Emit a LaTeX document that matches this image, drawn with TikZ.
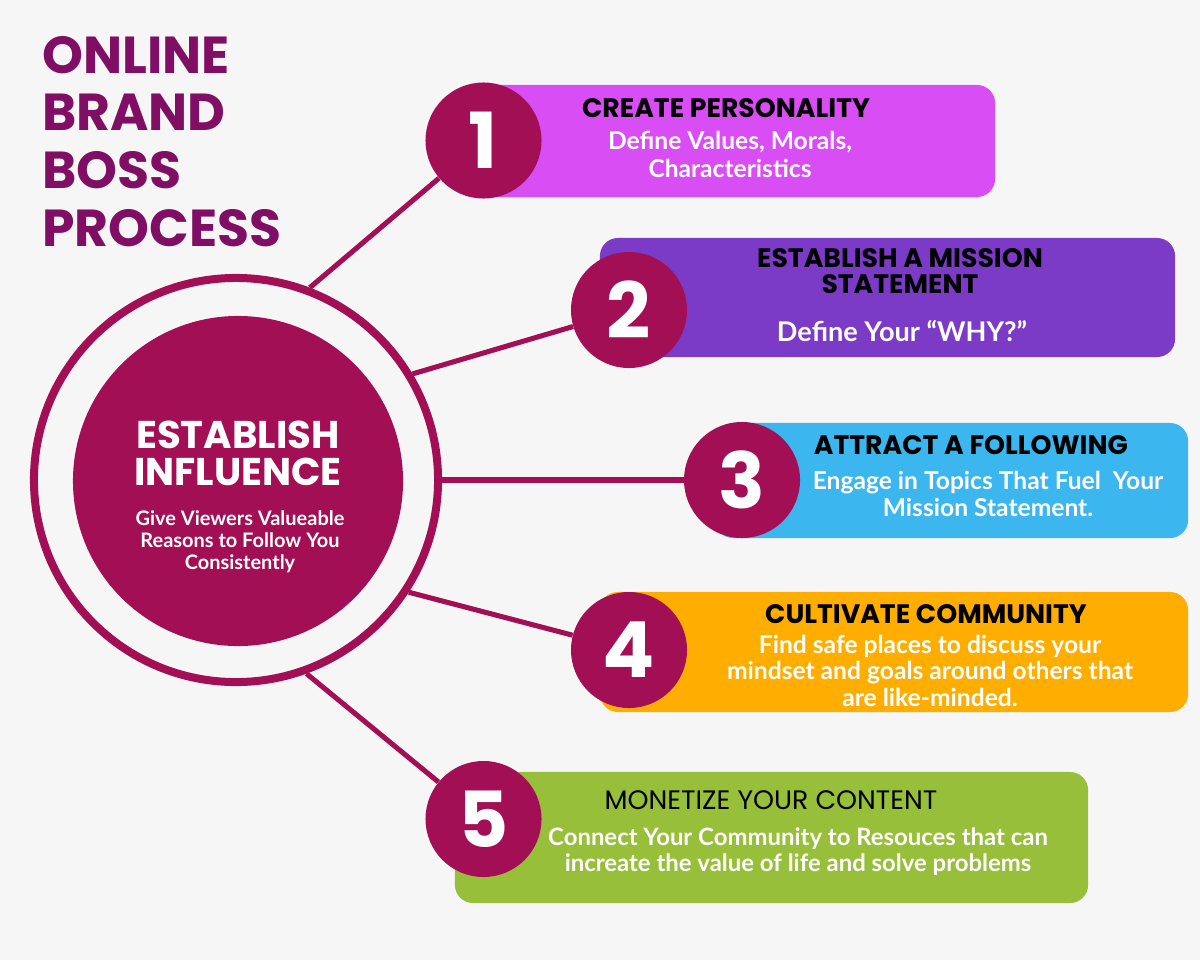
\documentclass[tikz,border=0pt]{standalone}
\usepackage{fontspec}
\setmainfont{Lato}
\newfontfamily\headfont{Poppins}

\definecolor{pagebg}{HTML}{F6F6F6}
\definecolor{brandred}{HTML}{A30F55}
\definecolor{titleplum}{HTML}{800E64}
\definecolor{cardpink}{HTML}{D94DF5}
\definecolor{cardpurple}{HTML}{7B3BC6}
\definecolor{cardblue}{HTML}{3BB6EF}
\definecolor{cardorange}{HTML}{FFAE00}
\definecolor{cardgreen}{HTML}{97BF39}

\begin{document}
\begin{tikzpicture}[
    x=0.025cm, y=-0.025cm,
    numdot/.style={circle, fill=brandred, minimum size=2.9cm, inner sep=0pt, text=white,
      font=\headfont\bfseries\fontsize{55}{55}\selectfont},
    card/.style={rounded corners=0.45cm, inner sep=0pt},
    cardhead/.style={anchor=base, align=center, font=\headfont\bfseries\fontsize{19}{17.8}\selectfont},
    cardtext/.style={anchor=base, align=center, text=white, font=\bfseries\fontsize{17.5}{19}\selectfont},
    spoke/.style={draw=brandred, line width=3.6pt}
  ]
  \fill[pagebg] (0,0) rectangle (1200,960);

  % title (base = last line)
  \node[anchor=base west, align=left, inner sep=0pt, text=titleplum,
    font=\headfont\bfseries\fontsize{37}{41}\selectfont] (title) at (42,246) {ONLINE\\BRAND\\BOSS\\PROCESS};

  % cards
  \node[card, fill=cardpink, minimum width=13.5cm, minimum height=2.8cm] (c1) at (725,141) {};
  \node[card, fill=cardpurple, minimum width=14.375cm, minimum height=2.975cm] (c2) at (887.5,297.5) {};
  \node[card, fill=cardblue, minimum width=11.825cm, minimum height=2.875cm] (c3) at (951.5,480.5) {};
  \node[card, fill=cardorange, minimum width=14.7cm, minimum height=3cm] (c4) at (894,652) {};
  \node[card, fill=cardgreen, minimum width=15.825cm, minimum height=3.275cm] (c5) at (771.5,837.5) {};

  % hub
  \node[circle, draw=brandred, line width=0.2cm, minimum size=10.1cm, inner sep=0pt] (ring) at (236,480) {};
  \node[circle, fill=brandred, minimum size=8.25cm, inner sep=0pt] (hub) at (238,481) {};
  \node[anchor=base, align=center, text=white,
    font=\headfont\bfseries\fontsize{27.5}{26.3}\selectfont] (hubhead) at (238,485) {ESTABLISH\\INFLUENCE};
  \node[cardtext, font=\bfseries\fontsize{14.2}{15.6}\selectfont] (hubtext) at (240,569)
    {Give Viewers Valueable\\Reasons to Follow You\\Consistently};

  % numbers
  \node[numdot] (n1) at (483.5,140.5) {1};
  \node[numdot] (n2) at (629,310) {2};
  \node[numdot] (n3) at (742,480) {3};
  \node[numdot] (n4) at (629,650) {4};
  \node[numdot] (n5) at (483.5,819) {5};

  % spokes
  \draw[spoke] (ring.69) -- (n1);
  \draw[spoke] (ring.31) -- (n2);
  \draw[spoke] (ring.east) -- (n3);
  \draw[spoke] (ring.-33) -- (n4);
  \draw[spoke] (ring.-70) -- (n5);

  % card texts (base = last line)
  \node[cardhead] (h1) at (726,117) {CREATE PERSONALITY};
  \node[cardtext, font=\bfseries\fontsize{17.5}{19.9}\selectfont] (t1) at (730,177) {Define Values, Morals,\\Characteristics};
  \node[cardhead] (h2) at (900,293) {ESTABLISH A MISSION\\STATEMENT};
  \node[cardtext, font=\bfseries\fontsize{19.3}{19}\selectfont] (t2) at (902,341) {Define Your “WHY?”};
  \node[cardhead] (h3) at (971,454) {ATTRACT A FOLLOWING};
  \node[cardtext, font=\bfseries\fontsize{17.5}{18.5}\selectfont] (t3) at (988,516) {Engage in Topics That Fuel \ Your\\Mission Statement.};
  \node[cardhead] (h4) at (926,623) {CULTIVATE COMMUNITY};
  \node[cardtext, font=\bfseries\fontsize{17.5}{18.5}\selectfont] (t4) at (930,706)
    {Find safe places to discuss your\\mindset and goals around others that\\are like-minded.};
  \node[cardhead, font=\headfont\fontsize{19}{17.8}\selectfont] (h5) at (771,809) {MONETIZE YOUR CONTENT};
  \node[cardtext, font=\bfseries\fontsize{17}{17.8}\selectfont] (t5) at (798,871)
    {Connect Your Community to Resouces that can\\increate the value of life and solve problems};
\end{tikzpicture}
\end{document}
